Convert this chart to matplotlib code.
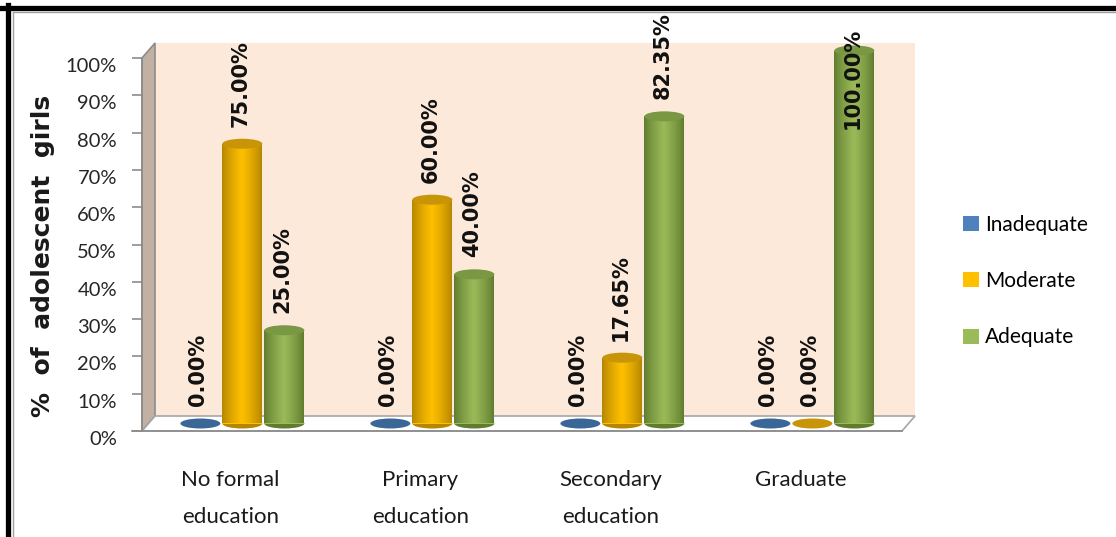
import numpy as np
import matplotlib
matplotlib.use('Agg')
import matplotlib.pyplot as plt
from matplotlib.patches import Ellipse, Polygon, Patch
from matplotlib.lines import Line2D
from matplotlib.colors import to_rgb
from matplotlib.transforms import offset_copy, ScaledTranslation

plt.rcParams['font.family'] = ['Lato', 'DejaVu Sans']

# data
categories = ['No formal\neducation', 'Primary\neducation', 'Secondary\neducation', 'Graduate']
series = ['Inadequate', 'Moderate', 'Adequate']
inadequate = [0.00, 0.00, 0.00, 0.00]
moderate = [75.00, 60.00, 17.65, 0.00]
adequate = [25.00, 40.00, 82.35, 100.00]
yticks = [0, 10, 20, 30, 40, 50, 60, 70, 80, 90, 100]

values = [inadequate, moderate, adequate]
# (legend / mid colour, edge shade, top cap)
palette = [('#4F81BD', '#2E5A8E', '#3B6698'),
           ('#FFC000', '#B58600', '#C89508'),
           ('#9BBB59', '#5F7C2F', '#7A9843')]

W, H = 1116, 537
fig = plt.figure(figsize=(W / 100, H / 100), dpi=100)
fig.patch.set_facecolor('white')

ax_l, ax_r, ax_t, ax_b = 142, 902, 58, 431
ax = fig.add_axes([ax_l / W, 1 - ax_b / H, (ax_r - ax_l) / W, (ax_b - ax_t) / H])
x0, x1 = -0.494, 3.506
ax.set_xlim(x0, x1)
ax.set_ylim(0, 100)
ax.patch.set_visible(False)

# depth of the 3d box, in pixels
dep_px, dep_py = 13, 15
ppx = (ax_r - ax_l) / (x1 - x0)
ppy = (ax_b - ax_t) / 100
dx, dy = dep_px / ppx, dep_py / ppy

# walls and floor
back = Polygon([(x0 + dx, dy), (x1 + dx, dy), (x1 + dx, 100 + dy), (x0 + dx, 100 + dy)],
               closed=True, facecolor='#FDE9D9', edgecolor='none', clip_on=False, zorder=0)
side = Polygon([(x0, 0), (x0 + dx, dy), (x0 + dx, 100 + dy), (x0, 100)],
               closed=True, facecolor='#C2B1A2', edgecolor='#8C8C8C', lw=1.2, clip_on=False, zorder=1)
floor = Polygon([(x0, 0), (x0 + dx, dy), (x1 + dx, dy), (x1, 0)],
                closed=True, facecolor='white', edgecolor='#A6A6A6', lw=1.2, clip_on=False, zorder=1)
for p in (back, side, floor):
    ax.add_patch(p)

# cylinders sit half way into the box
bar_tr = offset_copy(ax.transData, fig=fig, x=dep_px / 2, y=dep_py / 2, units='dots')
bw = 40 / ppx
gap = 42 / ppx
cap_h = 10 / ppy
xs = np.arange(len(categories))


def shade(mid, edge, n=64):
    m, e = np.array(to_rgb(mid)), np.array(to_rgb(edge))
    t = np.linspace(0, 1, n)
    # bright band slightly left of centre
    k = np.clip(1 - np.abs(t - 0.5) / 0.5, 0, 1) ** 0.8
    return (e[None, :] * (1 - k[:, None]) + m[None, :] * k[:, None])[None, :, :]


lab_kw = dict(rotation=90, ha='center', transform=bar_tr, fontsize=15, fontweight='bold',
              family='DejaVu Sans', color='#111111', zorder=5, clip_on=False)

for i, (name, vals) in enumerate(zip(series, values)):
    mid, edge, top = palette[i]
    pos = xs + (i - 1) * gap
    bars = ax.bar(pos, vals, bw, color=mid, transform=bar_tr, clip_on=False,
                  zorder=3, linewidth=0)
    grad = shade(mid, edge)
    for b, xc, v in zip(bars, pos, vals):
        if v > 0:
            ax.add_patch(Ellipse((xc, 0), bw, cap_h, transform=bar_tr, facecolor=edge,
                                 edgecolor='none', clip_on=False, zorder=2.9))
            im = ax.imshow(grad, extent=(xc - bw / 2, xc + bw / 2, 0, v), aspect='auto',
                           transform=bar_tr, zorder=3.1, interpolation='bilinear')
            im.set_clip_path(b)
            im.set_clip_on(True)
        ax.add_patch(Ellipse((xc, v), bw, cap_h, transform=bar_tr, facecolor=top,
                             edgecolor='none', clip_on=False, zorder=3.2))
        label = f'{v:.2f}%'
        if v >= 100:
            # no room above the tallest bar, so the label drops into it
            ax.text(xc - 0.01, v + 6.2, label, va='top', **lab_kw)
        else:
            ax.text(xc - 0.01, v + 4.6, label, va='bottom', **lab_kw)

ax.set_xlim(x0, x1)
ax.set_ylim(0, 100)

# axes and ticks
for s in ('top', 'right', 'bottom'):
    ax.spines[s].set_visible(False)
ax.spines['left'].set_color('#8C8C8C')
ax.spines['left'].set_linewidth(1.2)
ax.plot([x0 - 10 / ppx, x1], [0, 0], color='#8C8C8C', lw=1.2, clip_on=False, zorder=2)

ax.set_yticks(yticks, labels=[f'{t}%' for t in yticks])
ax.tick_params(axis='y', length=7, width=1.2, color='#8C8C8C', pad=11,
               labelsize=14.5, labelcolor='#262626')
for lab in ax.get_yticklabels():
    lab.set_transform(lab.get_transform() + ScaledTranslation(0, -0.07, fig.dpi_scale_trans))

ax.set_xticks(xs, labels=categories)
ax.tick_params(axis='x', length=0, pad=28, labelsize=16, labelcolor='#1a1a1a')
for lab in ax.get_xticklabels():
    lab.set_linespacing(2.05)
    lab.set_transform(lab.get_transform() + ScaledTranslation(-0.055, 0, fig.dpi_scale_trans))

fig.text(43 / W, 1 - 256 / H, '%  of  adolescent  girls', rotation=90, ha='center', va='center',
         fontsize=18, fontweight='bold', family='DejaVu Sans', color='#1a1a1a')

handles = [Patch(facecolor=p[0], edgecolor='none') for p in palette]
fig.legend(handles, series, loc='center left', bbox_to_anchor=(955 / W, 1 - 281 / H),
           frameon=False, fontsize=15, handlelength=0.75, handleheight=0.75,
           handletextpad=0.3, labelspacing=1.75, borderaxespad=0)

# outer frame
fig.add_artist(Line2D([0, 1], [1 - 7.5 / H, 1 - 7.5 / H], color='black', lw=3.8))
fig.add_artist(Line2D([7.5 / W, 7.5 / W], [0, 1 - 5 / H], color='black', lw=3.8))
fig.add_artist(Line2D([13 / W, 1], [1 - 12 / H, 1 - 12 / H], color='#A0A0A0', lw=1))
fig.add_artist(Line2D([13 / W, 13 / W], [0, 1 - 12 / H], color='#A0A0A0', lw=1))

fig.savefig('out.png', dpi=100)
